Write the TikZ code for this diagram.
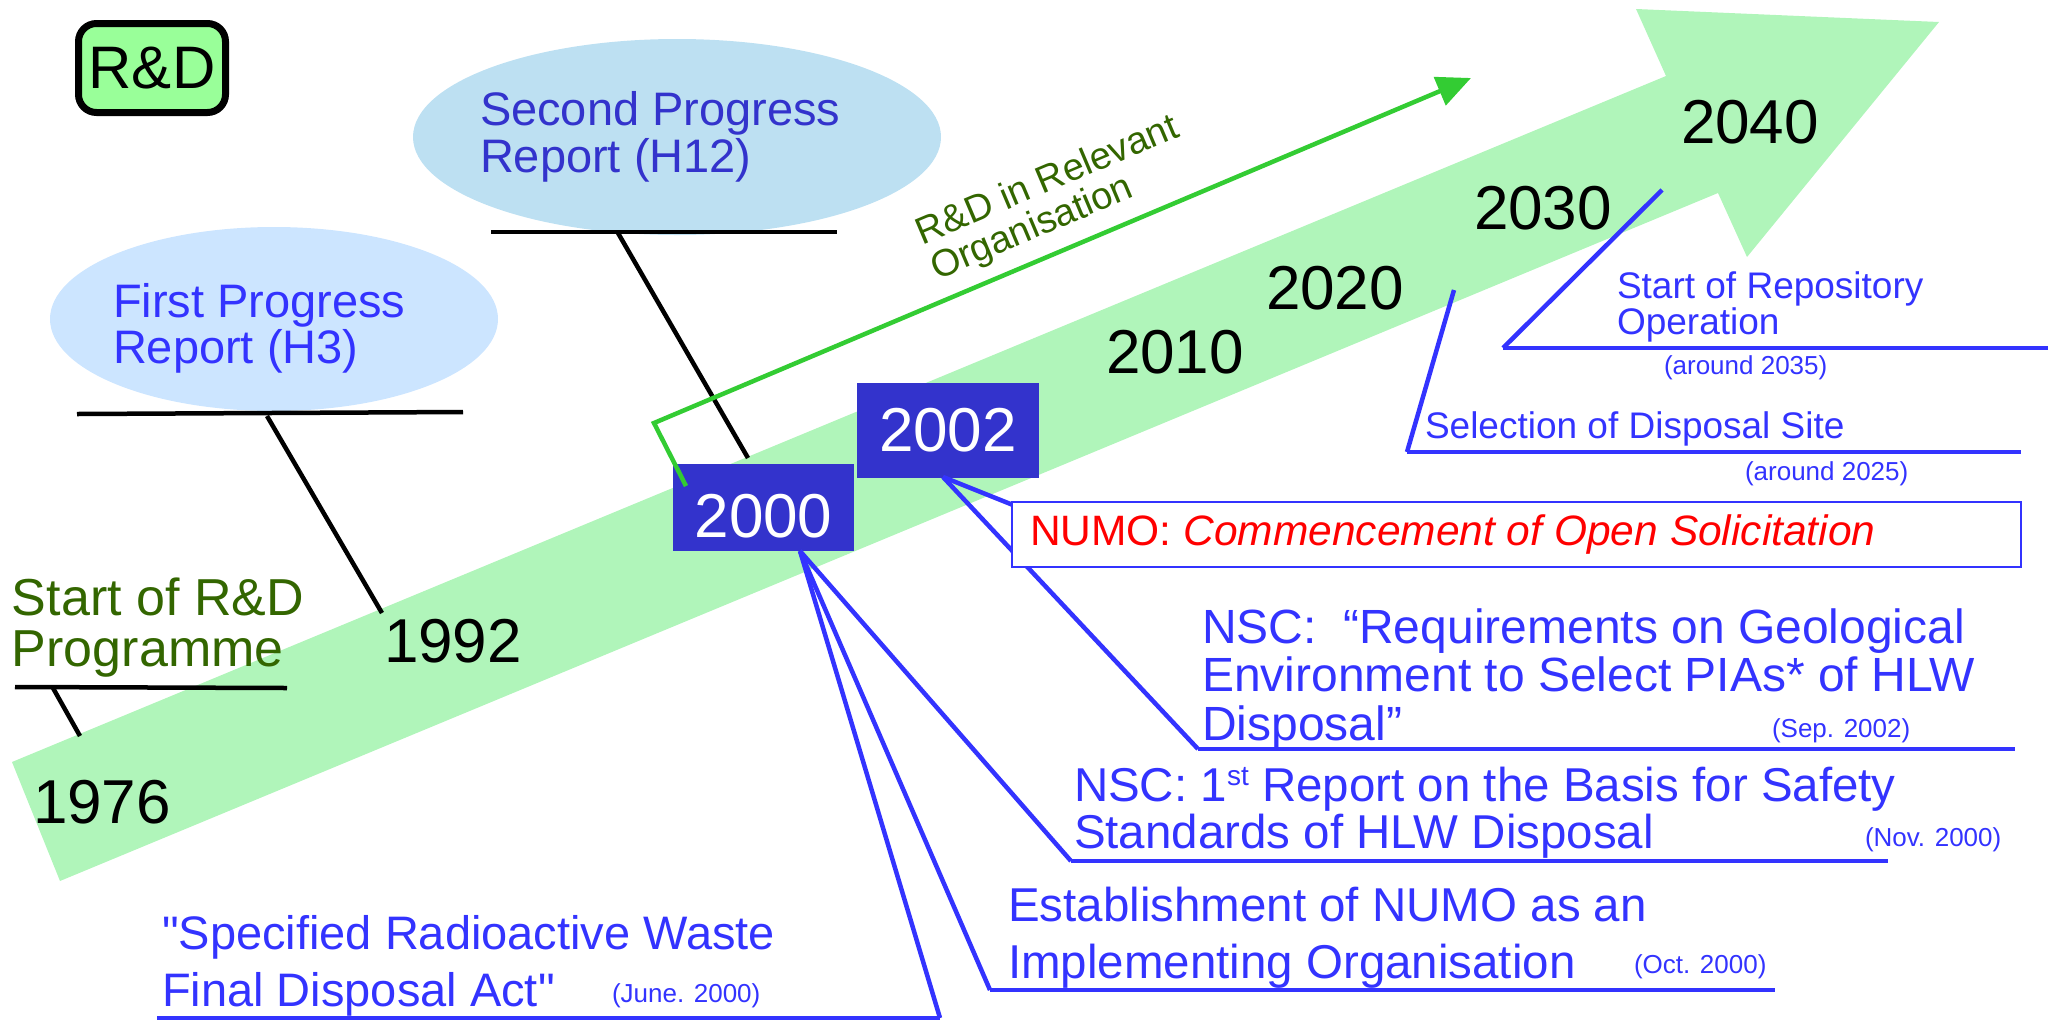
\documentclass[tikz,border=0pt]{standalone}
\usepackage{fontspec}
\setmainfont{Liberation Sans}
\newfontfamily\qfont{Liberation Sans}
\usetikzlibrary{arrows.meta,calc,shapes.geometric}
\definecolor{bandgreen}{RGB}{176,245,186}
\definecolor{rdgreen}{RGB}{153,255,153}
\definecolor{ellone}{RGB}{204,229,255}
\definecolor{elltwo}{RGB}{189,224,242}
\definecolor{txtblue}{RGB}{51,51,255}
\definecolor{dblue}{RGB}{51,51,204}
\definecolor{boxblue}{RGB}{51,51,204}
\definecolor{dgreen}{RGB}{51,102,0}
\definecolor{lgreen}{RGB}{51,204,51}
\newcommand{\myfs}[2]{\fontsize{#1}{#2}\selectfont}
\newcommand{\sq}{{\qfont"}}
\begin{document}
\begin{tikzpicture}[x=1pt,y=-1pt,
  every node/.style={inner sep=0pt,outer sep=0pt},
  blk/.style={draw=black,line width=4.5pt},
  bl/.style={draw=txtblue,line width=4.5pt},
  yearlbl/.style={anchor=base west,font=\myfs{62}{62},text=black},
  evt/.style={anchor=base west,align=left,text=txtblue},
  datelbl/.style={anchor=base west,font=\myfs{26}{26},text=txtblue},
  yearbox/.style={fill=boxblue,text=white,font=\myfs{62}{62}}]
\useasboundingbox (0,0) rectangle (2053,1021);

% big arrow band
\fill[bandgreen] (12,762) -- (1666,76) -- (1636,9) -- (1939,22) -- (1747,257) -- (1718,193) -- (60,881) -- cycle;

% ellipses
\node[ellipse,fill=ellone,minimum width=448pt,minimum height=184pt] (e1) at (274,319) {};
\node[ellipse,fill=elltwo,minimum width=528pt,minimum height=196pt] (e2) at (677,137) {};
\node[evt,text=txtblue,font=\myfs{47}{46}] (e1t) at (113,363) {First Progress\\Report (H3)};
\node[evt,text=dblue,font=\myfs{47}{47}] (e2t) at (480,172) {Second Progress\\Report (H12)};

% R&D box
\node[draw=black,line width=7pt,fill=rdgreen,rounded corners=18pt,minimum width=147pt,minimum height=89pt,font=\myfs{60}{60}] (rd) at (152,68) {R\&D};

% year labels
\node[yearlbl] (y1976) at (33,823) {1976};
\node[yearlbl] (y1992) at (384,662) {1992};
\node[yearlbl] (y2010) at (1106,373) {2010};
\node[yearlbl] (y2020) at (1266,309) {2020};
\node[yearlbl] (y2030) at (1474,229) {2030};
\node[yearlbl] (y2040) at (1681,143) {2040};

% black underlines and connectors
\coordinate (s1l) at (15,687); \coordinate (s1r) at (287,688);
\coordinate (s1c) at (53,688); \coordinate (s1e) at (80,736);
\coordinate (u1l) at (77,414); \coordinate (u1r) at (463,412);
\coordinate (u1c) at (267,416); \coordinate (u1e) at (382,613);
\coordinate (u2l) at (491,232); \coordinate (u2r) at (837,232);
\coordinate (u2c) at (618,233); \coordinate (u2e) at (748,458);
\draw[blk] (s1l) -- (s1r);
\draw[blk] (s1c) -- (s1e);
\draw[blk] (u1l) -- (u1r);
\draw[blk] (u1c) -- (u1e);
\draw[blk] (u2l) -- (u2r);
\draw[blk] (u2c) -- (u2e);

% texts on the left
\node[evt,text=dgreen,font=\myfs{52}{51}] (startrd) at (12,666) {Start of R\&D\\Programme};

% year boxes
\node[yearbox,minimum width=181pt,minimum height=87pt,text height=59pt,text depth=0pt] (y2000) at (763.5,507.5) {2000};
\node[yearbox,minimum width=182pt,minimum height=95pt] (y2002) at (948,430.5) {2002};

% blue connectors from 2000
\coordinate (o2000) at (800,551);
\coordinate (actl) at (157,1018); \coordinate (actr) at (940,1018);
\coordinate (estl) at (990,990); \coordinate (estr) at (1775,990);
\coordinate (nscl) at (1071,861); \coordinate (nscr) at (1888,861);
\draw[bl] (actl) -- (actr);
\draw[bl] (estl) -- (estr);
\draw[bl] (nscl) -- (nscr);
\draw[bl] (o2000) -- (actr);
\draw[bl] (o2000) -- (estl);
\draw[bl] (o2000) -- (nscl);

% blue connectors from 2002
\coordinate (o2002) at (943,477);
\coordinate (reql) at (1198,749); \coordinate (reqr) at (2015,749);
\coordinate (numoin) at (1013,505);
\draw[bl] (reql) -- (reqr);
\draw[bl] (o2002) -- (reql);
\draw[bl] (o2002) -- (numoin);

% NUMO box
\node[draw=txtblue,line width=2.5pt,fill=white,minimum width=1009pt,minimum height=65pt] (numo) at (1516.5,534.5) {};
\node[anchor=base west,font=\myfs{42.5}{42.5},text=red] (numot) at (1030,545) {NUMO: \itshape Commencement of Open Solicitation};

% future events
\coordinate (sell) at (1407,452); \coordinate (selr) at (2021,452);
\coordinate (selc) at (1454,290);
\coordinate (repl) at (1503,348); \coordinate (repr) at (2048,348);
\coordinate (repc) at (1662,190);
\draw[bl] (sell) -- (selr);
\draw[bl] (selc) -- (sell);
\draw[bl] (repl) -- (repr);
\draw[bl] (repc) -- (repl);

% event texts
\node[evt,font=\myfs{47}{57}] (act) at (162,1006) {\sq Specified Radioactive Waste\\Final Disposal Act\sq};
\node[datelbl] (actd) at (612,1002) {(June. 2000)};
\node[evt,font=\myfs{47.5}{57}] (est) at (1008,978) {Establishment of NUMO as an\\Implementing Organisation};
\node[datelbl] (estd) at (1634,973) {(Oct. 2000)};
\node[evt,font=\myfs{47.5}{47}] (nsc) at (1074,848) {NSC: 1\raisebox{16pt}{\myfs{28}{28}st} Report on the Basis for Safety\\Standards of HLW Disposal};
\node[datelbl] (nscd) at (1865,846) {(Nov. 2000)};
\node[evt,font=\myfs{48}{48.5}] (req) at (1202,740) {NSC:\ \ “Requirements on Geological\\Environment to Select PIAs* of HLW\\Disposal”};
\node[datelbl] (reqd) at (1772,737) {(Sep. 2002)};
\node[evt,font=\myfs{37}{37}] (sel) at (1425,438) {Selection of Disposal Site};
\node[datelbl] (seld) at (1745,480) {(around 2025)};
\node[evt,font=\myfs{37}{36}] (rep) at (1617,334) {Start of Repository\\Operation};
\node[datelbl] (repd) at (1664,374) {(around 2035)};

% green R&D arrow
\coordinate (g0) at (686,486);
\coordinate (g1) at (654,423);
\coordinate (g2) at (1471,78);
\draw[lgreen,line width=4.5pt,-{Triangle[length=34pt,width=30pt]}] (g0) -- (g1) -- (g2);
\node[anchor=base west,align=left,rotate=22.9,text=dgreen,font=\myfs{38}{37.5}] (rel) at (937,280) {R\&D in Relevant\\Organisation};
\end{tikzpicture}
\end{document}
